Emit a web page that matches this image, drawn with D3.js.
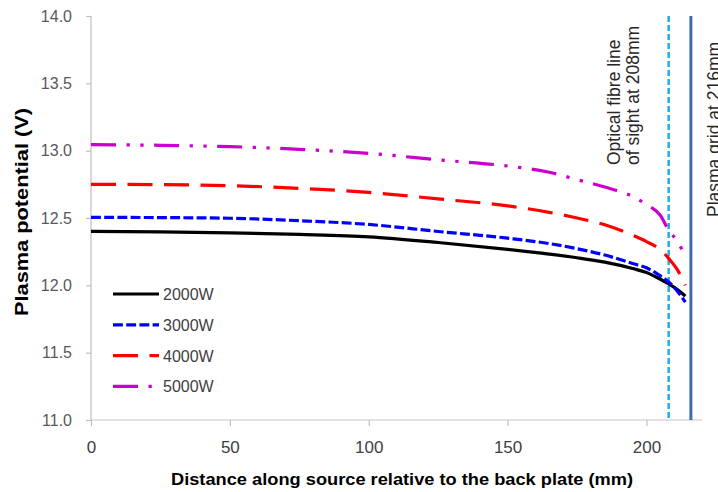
<!DOCTYPE html>
<html>
<head>
<meta charset="utf-8">
<script src="https://cdn.jsdelivr.net/npm/d3@7/dist/d3.min.js"></script>
<style>
  html, body { margin: 0; padding: 0; background: #fff; }
  svg { display: block; font-family: "Liberation Sans", Arial, sans-serif; }
</style>
</head>
<body>
<svg id="chart" width="718" height="492"></svg>
<script>
// Distance along the source (mm)
const distance = [0, 25, 50, 75, 100, 125, 150, 165, 175, 185, 195, 200, 205, 208, 211, 214];

// Plasma potential (V) for each RF power level
const p2000 = [12.40, 12.397, 12.39, 12.378, 12.36, 12.318, 12.267, 12.232, 12.205, 12.172, 12.125, 12.095, 12.045, 12.01, 11.97, 11.92];
const p3000 = [12.505, 12.503, 12.498, 12.48, 12.452, 12.40, 12.35, 12.31, 12.272, 12.225, 12.162, 12.13, 12.07, 12.025, 11.96, 11.875];
const p4000 = [12.75, 12.748, 12.74, 12.72, 12.69, 12.642, 12.59, 12.542, 12.50, 12.45, 12.372, 12.325, 12.265, 12.20, 12.12, 12.00];
const p5000 = [13.045, 13.04, 13.03, 13.01, 12.98, 12.932, 12.886, 12.84, 12.785, 12.73, 12.66, 12.60, 12.52, 12.41, 12.33, 12.22];

const seriesNames = ["2000W", "3000W", "4000W", "5000W"];
const seriesValues = [p2000, p3000, p4000, p5000];

const xTicks = [0, 50, 100, 150, 200];
const yTicks = [11.0, 11.5, 12.0, 12.5, 13.0, 13.5, 14.0];

// Reference positions (mm)
const fibrePos = 208;
const gridPos = 216;
const fibreLabel = ["Optical fibre line", "of sight at 208mm"];
const gridLabel = "Plasma grid at 216mm";

const xTitle = "Distance along source relative to the back plate (mm)";
const yTitle = "Plasma potential (V)";

// ---- drawing ----
(function draw() {
  const svg = d3.select("#chart");
  const plotLeft = 91, plotRight = 702, plotTop = 16, plotBottom = 420;

  const x = d3.scaleLinear().domain([0, 220]).range([plotLeft, plotRight]);
  const y = d3.scaleLinear().domain([11, 14]).range([plotBottom, plotTop]);

  const styles = [
    { color: "#000000", dash: null },
    { color: "#0000FF", dash: "9.9,3.3" },
    { color: "#FF0000", dash: "25,11.5" },
    { color: "#CC00CC", dash: "25,10.5,3.3,10.5,3.3,10.5" }
  ];

  // axes
  const xAxis = d3.axisBottom(x).tickValues(xTicks).tickSize(6).tickPadding(15).tickFormat(d3.format("d"));
  const gx = svg.append("g").attr("transform", `translate(0,${plotBottom})`).call(xAxis);
  gx.select(".domain").attr("stroke", "#d9d9d9").attr("stroke-width", 1.5).attr("d", `M${plotLeft},0H${plotRight}`);
  gx.selectAll(".tick line").attr("stroke", "#bfbfbf").attr("stroke-width", 1.2);
  gx.selectAll(".tick text").attr("fill", "#404040").attr("font-size", 17);

  const yAxis = d3.axisLeft(y).tickValues(yTicks).tickSize(5).tickPadding(14).tickFormat(d3.format(".1f"));
  const gy = svg.append("g").attr("transform", `translate(${plotLeft},0)`).call(yAxis);
  gy.select(".domain").attr("stroke", "#bfbfbf").attr("stroke-width", 1.2).attr("d", `M0,${plotTop}V${plotBottom}`);
  gy.selectAll(".tick line").attr("stroke", "#bfbfbf").attr("stroke-width", 1.2);
  gy.selectAll(".tick text").attr("fill", "#595959").attr("font-size", 16);

  // reference lines
  svg.append("line")
    .attr("x1", x(fibrePos)).attr("x2", x(fibrePos))
    .attr("y1", plotTop).attr("y2", plotBottom)
    .attr("stroke", "#1CB0E8").attr("stroke-width", 2.5).attr("stroke-dasharray", "6,3");
  svg.append("line")
    .attr("x1", x(gridPos)).attr("x2", x(gridPos))
    .attr("y1", plotTop).attr("y2", plotBottom)
    .attr("stroke", "#3E6DAF").attr("stroke-width", 3);

  // series
  const line = d3.line().x(d => x(d[0])).y(d => y(d[1])).curve(d3.curveMonotoneX);
  seriesValues.forEach((vals, i) => {
    const pts = distance.map((d, j) => [d, vals[j]]);
    svg.append("path")
      .attr("d", line(pts))
      .attr("fill", "none")
      .attr("stroke", styles[i].color)
      .attr("stroke-width", 3.2)
      .attr("stroke-dasharray", styles[i].dash);
  });

  // legend
  const legend = svg.append("g");
  seriesNames.forEach((name, i) => {
    const ly = 294 + i * 30.8;
    legend.append("line")
      .attr("x1", 113).attr("x2", 159).attr("y1", ly).attr("y2", ly)
      .attr("stroke", styles[i].color).attr("stroke-width", 3.2)
      .attr("stroke-dasharray", styles[i].dash);
    legend.append("text")
      .attr("x", 163).attr("y", ly + 6)
      .attr("fill", "#404040").attr("font-size", 16)
      .text(name);
  });

  // annotations
  fibreLabel.forEach((t, i) => {
    svg.append("text")
      .attr("transform", `translate(${620 + i * 19},165) rotate(-90)`)
      .attr("fill", "#262626").attr("font-size", 17.5)
      .text(t);
  });
  svg.append("text")
    .attr("transform", `translate(720,217) rotate(-90)`)
    .attr("fill", "#262626").attr("font-size", 17.5)
    .text(gridLabel);

  // axis titles
  svg.append("text")
    .attr("x", 402).attr("y", 485)
    .attr("text-anchor", "middle")
    .attr("font-weight", "bold").attr("font-size", 17)
    .attr("textLength", 462).attr("lengthAdjust", "spacingAndGlyphs")
    .attr("fill", "#000")
    .text(xTitle);
  svg.append("text")
    .attr("transform", `translate(28,212) rotate(-90)`)
    .attr("text-anchor", "middle")
    .attr("font-weight", "bold").attr("font-size", 17.5)
    .attr("textLength", 208).attr("lengthAdjust", "spacingAndGlyphs")
    .attr("fill", "#000")
    .text(yTitle);
})();
</script>
</body>
</html>
